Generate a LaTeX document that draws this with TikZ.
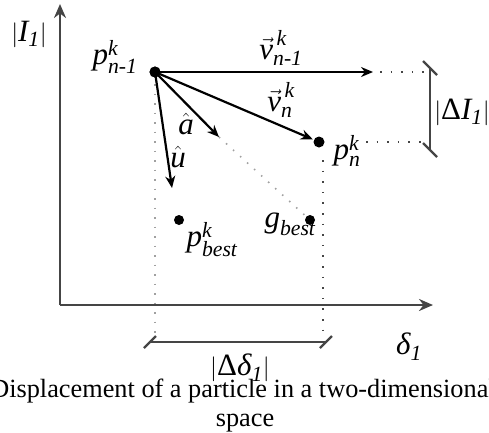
\documentclass[tikz,border=0pt]{standalone}
\usepackage{amsmath}
\usepackage{fontspec}
\setmainfont{Liberation Serif}
\usetikzlibrary{arrows.meta}
\definecolor{axisgray}{HTML}{454545}
\definecolor{dotgray}{HTML}{A0A0A0}
\begin{document}
\begin{tikzpicture}[x=1pt,y=-1pt,
  font=\fontsize{31}{35}\selectfont,
  axis/.style={draw=axisgray, line width=2.6pt, -{Stealth[length=14pt,width=12pt]}},
  vecarrow/.style={draw=black, line width=2.2pt, -{Stealth[length=12pt,width=10pt]}},
  dotpt/.style={circle, fill=black, inner sep=0pt, minimum size=11pt},
  darkdots/.style={draw=axisgray, line width=2.2pt, dash pattern=on 1.6pt off 9pt},
  lightdots/.style={draw=dotgray, line width=1.6pt, dash pattern=on 1.5pt off 8pt},
  bracket/.style={draw=axisgray, line width=2.4pt},
  lbl/.style={inner sep=0pt},
  captxt/.style={inner sep=0pt, font=\fontsize{26.3}{30}\selectfont}]
\useasboundingbox (0,0) rectangle (489,432);
% axes
\coordinate (O) at (60,305);
\coordinate (ytop) at (60,4);
\coordinate (xend) at (433,305);
\draw[axis] (O) -- (ytop);
\draw[axis] (O) -- (xend);
% points
\node[dotpt] (pn1) at (155,72) {};
\node[dotpt] (pn) at (319,142) {};
\node[dotpt, minimum size=10pt] (pb) at (179,220) {};
\node[dotpt, minimum size=10pt] (gb) at (310,220) {};
% tips and helpers
\coordinate (vtip) at (373,72);
\coordinate (vd1) at (380,72);
\coordinate (vd2) at (424,72);
\coordinate (nd1) at (366,142);
\coordinate (nd2) at (424,142);
\coordinate (atip) at (219,137);
\coordinate (utip) at (172,188);
\coordinate (lv1) at (155,84);
\coordinate (lv2) at (155,336);
\coordinate (rv1) at (323,160);
\coordinate (rv2) at (323,336);
% dotted guides
\draw[lightdots] (lv1) -- (lv2);
\draw[darkdots] (rv1) -- (rv2);
\draw[darkdots] (vd1) -- (vd2);
\draw[darkdots] (nd1) -- (nd2);
\draw[lightdots] (atip) -- (gb);
% vectors
\draw[vecarrow] (pn1.center) -- (vtip);
\draw[vecarrow, shorten >=1pt] (pn1.center) -- (pn);
\draw[vecarrow] (pn1.center) -- (atip);
\draw[vecarrow] (pn1.center) -- (utip);
\node[dotpt] at (pn1) {};
% dimension brackets
\coordinate (hb1) at (150,342);
\coordinate (hb2) at (326,342);
\draw[bracket] (hb1) -- (hb2);
\draw[bracket] (144,348) -- (156,336);
\draw[bracket] (320,348) -- (332,336);
\coordinate (vb1) at (430,68);
\coordinate (vb2) at (430,150);
\draw[bracket] (vb1) -- (vb2);
\draw[bracket] (423,61) -- (437,75);
\draw[bracket] (423,143) -- (437,157);
% labels
\node[lbl] (lI) at (29,34) {$|\textit{I}_{\textit{1}}|$};
\node[lbl] (lpn1) at (115,57) {$\textit{p}^{\textit{k}}_{\textit{n-1}}$};
\node[lbl] (lv1n) at (281,48) {$\vec{\textit{v}}^{\,\textit{k}}_{\textit{n-1}}$};
\node[lbl] (lvn) at (281,100) {$\vec{\textit{v}}^{\,\textit{k}}_{\textit{n}}$};
\node[lbl] (la) at (186,124) {$\hat{\textit{a}}$};
\node[lbl] (lu) at (178,157) {$\hat{\textit{u}}$};
\node[lbl] (lpn) at (347,151) {$\textit{p}^{\textit{k}}_{\textit{n}}$};
\node[lbl] (ldI) at (462,112) {$|\text{Δ}\textit{I}_{\textit{1}}|$};
\node[lbl] (lpb) at (212,240) {$\textit{p}^{\textit{k}}_{\textit{best}}$};
\node[lbl] (lgb) at (290,224) {$\textit{g}_{\textit{best}}$};
\node[lbl] (ld) at (409,347) {$\textit{δ}_{\textit{1}}$};
\node[lbl] (ldd) at (240,368) {$|\text{Δ}\textit{δ}_{\textit{1}}|$};
% caption
\node[captxt, anchor=base] (cap1) at (243,397) {Displacement of a particle in a two-dimensional};
\node[captxt, anchor=base] (cap2) at (245,426) {space};
\end{tikzpicture}
\end{document}
